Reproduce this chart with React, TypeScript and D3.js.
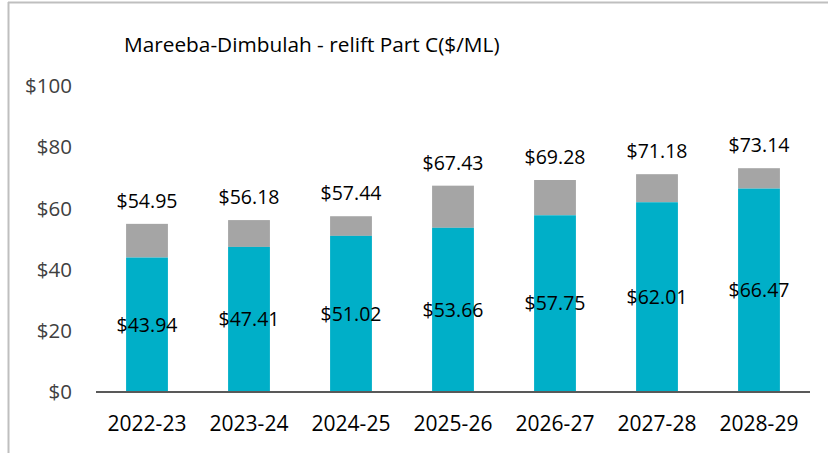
import * as d3 from 'd3';

const years = ['2022-23', '2023-24', '2024-25', '2025-26', '2026-27', '2027-28', '2028-29'];
const baseValues = [43.94, 47.41, 51.02, 53.66, 57.75, 62.01, 66.47];
const totalValues = [54.95, 56.18, 57.44, 67.43, 69.28, 71.18, 73.14];
const yTicks = [0, 20, 40, 60, 80, 100];

const W = 828, H = 453;
const font = "'Open Sans', 'Noto Sans', sans-serif";

export default function App() {
  const x = d3.scaleBand().domain(years).range([96, 810]).paddingInner(0.59).paddingOuter(0.295);
  const y = d3.scaleLinear().domain([0, 100]).range([392, 86]);
  const money = (v: number) => '$' + v.toFixed(2);

  return (
    <svg width={W} height={H} style={{ position: 'absolute', left: 0, top: 0 }}>
      <rect width={W} height={H} fill="#fff" />
      <line x1={8} x2={W} y1={2.5} y2={2.5} stroke="#bfbfbf" strokeWidth={2} />
      <line x1={8.5} x2={8.5} y1={2} y2={H} stroke="#bfbfbf" strokeWidth={2} />

      <text x={124} y={52} fontFamily={font} fontSize={20.8} fill="#000">
        Mareeba-Dimbulah - relift Part C($/ML)
      </text>

      {yTicks.map(t => (
        <text key={t} x={72} y={y(t)} dy="0.35em" textAnchor="end" fontFamily={font} fontSize={20.5} fill="#404040">
          ${t}
        </text>
      ))}

      {years.map((yr, i) => (
        <g key={yr}>
          <rect x={x(yr)} width={x.bandwidth()} y={y(totalValues[i])} height={y(baseValues[i]) - y(totalValues[i])} fill="#a5a5a5" />
          <rect x={x(yr)} width={x.bandwidth()} y={y(baseValues[i])} height={y(0) - y(baseValues[i])} fill="#00afc8" />
          <text x={x(yr)! + x.bandwidth() / 2} y={y(totalValues[i]) - 16} textAnchor="middle" fontFamily={font} fontSize={19.5} fill="#000">
            {money(totalValues[i])}
          </text>
          <text x={x(yr)! + x.bandwidth() / 2} y={y(baseValues[i] / 2)} dy="0.35em" textAnchor="middle" fontFamily={font} fontSize={19.5} fill="#000">
            {money(baseValues[i])}
          </text>
          <text x={x(yr)! + x.bandwidth() / 2} y={424} dy="0.35em" textAnchor="middle" fontFamily={font} fontSize={21} fill="#000">
            {yr}
          </text>
        </g>
      ))}

      <line x1={96} x2={810} y1={y(0)} y2={y(0)} stroke="#595959" strokeWidth={2} />
    </svg>
  );
}
